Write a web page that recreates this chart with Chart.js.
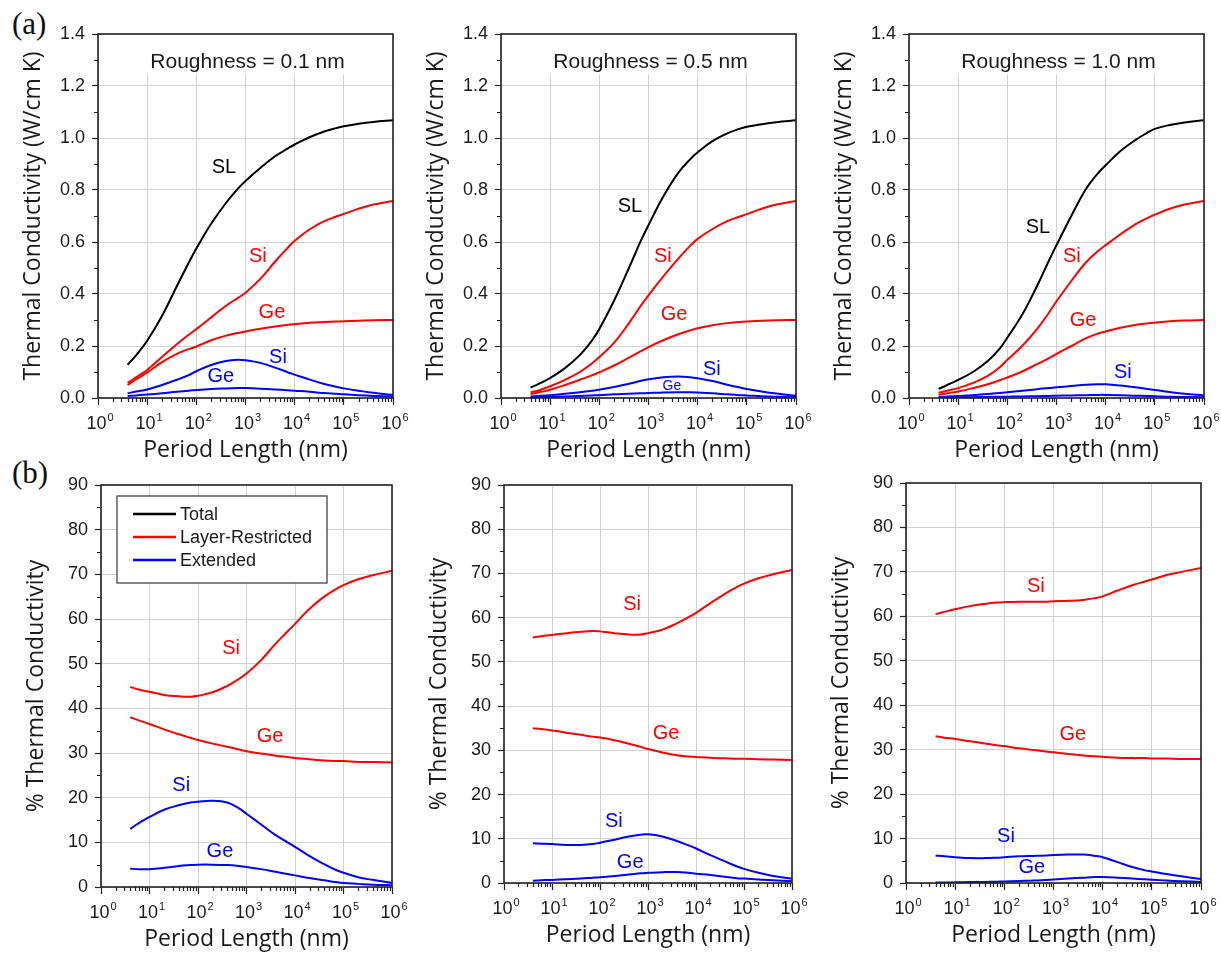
<!DOCTYPE html>
<html>
<head>
<meta charset="utf-8">
<title>Thermal conductivity vs period length</title>
<script src="https://cdn.jsdelivr.net/npm/chart.js@4.4.1/dist/chart.umd.min.js"></script>
<style>
    body { margin: 0; background: #fff; width: 1221px; height: 953px; overflow: hidden; position: relative; }
    .panel { position: absolute; }
    .tag { position: absolute; font-family: 'Liberation Serif', 'Times New Roman', serif; font-size: 31px; line-height: 1; color: #111; }
</style>
</head>
<body>
<div class="tag" style="left:12px; top:8px;">(a)</div>
<div class="tag" style="left:12px; top:457px;">(b)</div>

<script>
// Period lengths (nm) shared by every curve
const periods = [4, 6, 10, 20, 40, 70, 100, 200, 400, 700, 1e3, 2e3, 4e3, 7e3, 1e4, 2e4, 4e4, 7e4, 1e5, 2e5, 4e5, 1e6];

// Tick values
const xDecades = [1, 10, 100, 1e3, 1e4, 1e5, 1e6];
const kTicks = [0, 0.2, 0.4, 0.6, 0.8, 1.0, 1.2, 1.4];
const pctTicks = [0, 10, 20, 30, 40, 50, 60, 70, 80, 90];

// (a) thermal conductivity (W/cm K), roughness 0.1 nm
const slK_01 = [0.128, 0.165, 0.22, 0.315, 0.43, 0.52, 0.575, 0.67, 0.75, 0.805, 0.835, 0.885, 0.93, 0.958, 0.975, 1.003, 1.025, 1.038, 1.045, 1.055, 1.062, 1.068];
const siK_01 = [0.058, 0.08, 0.108, 0.158, 0.207, 0.243, 0.265, 0.31, 0.355, 0.385, 0.405, 0.458, 0.525, 0.575, 0.605, 0.648, 0.68, 0.698, 0.708, 0.728, 0.744, 0.758];
const geK_01 = [0.05, 0.072, 0.098, 0.138, 0.17, 0.188, 0.198, 0.222, 0.24, 0.25, 0.256, 0.266, 0.275, 0.281, 0.284, 0.289, 0.292, 0.294, 0.295, 0.297, 0.299, 0.30];
const siExtK_01 = [0.018, 0.025, 0.033, 0.05, 0.07, 0.088, 0.103, 0.127, 0.142, 0.147, 0.145, 0.135, 0.117, 0.1, 0.09, 0.071, 0.054, 0.043, 0.037, 0.028, 0.02, 0.012];
const geExtK_01 = [0.008, 0.01, 0.013, 0.018, 0.024, 0.028, 0.031, 0.035, 0.037, 0.038, 0.038, 0.036, 0.033, 0.03, 0.028, 0.024, 0.019, 0.016, 0.014, 0.011, 0.008, 0.005];

// (a) roughness 0.5 nm
const slK_05 = [0.04, 0.055, 0.077, 0.115, 0.165, 0.22, 0.265, 0.375, 0.5, 0.605, 0.665, 0.775, 0.865, 0.918, 0.945, 0.988, 1.018, 1.035, 1.043, 1.053, 1.061, 1.068];
const siK_05 = [0.022, 0.03, 0.045, 0.07, 0.10, 0.133, 0.158, 0.213, 0.288, 0.355, 0.395, 0.468, 0.535, 0.585, 0.612, 0.65, 0.68, 0.697, 0.707, 0.728, 0.744, 0.758];
const geK_05 = [0.015, 0.022, 0.032, 0.05, 0.07, 0.087, 0.099, 0.125, 0.155, 0.18, 0.196, 0.222, 0.245, 0.26, 0.268, 0.28, 0.288, 0.292, 0.294, 0.297, 0.299, 0.30];
const siExtK_05 = [0.006, 0.008, 0.011, 0.016, 0.022, 0.028, 0.032, 0.042, 0.055, 0.066, 0.072, 0.08, 0.083, 0.08, 0.076, 0.065, 0.051, 0.041, 0.035, 0.025, 0.017, 0.009];
const geExtK_05 = [0.002, 0.003, 0.004, 0.006, 0.008, 0.01, 0.011, 0.014, 0.016, 0.018, 0.019, 0.021, 0.022, 0.022, 0.021, 0.018, 0.014, 0.011, 0.01, 0.007, 0.005, 0.003];

// (a) roughness 1.0 nm
const slK_10 = [0.035, 0.05, 0.07, 0.10, 0.142, 0.19, 0.232, 0.32, 0.43, 0.528, 0.588, 0.7, 0.805, 0.865, 0.895, 0.95, 0.992, 1.02, 1.035, 1.05, 1.06, 1.068];
const siK_10 = [0.02, 0.028, 0.038, 0.058, 0.085, 0.118, 0.147, 0.2, 0.265, 0.328, 0.372, 0.45, 0.522, 0.565, 0.588, 0.63, 0.668, 0.692, 0.705, 0.728, 0.744, 0.758];
const geK_10 = [0.012, 0.018, 0.025, 0.038, 0.053, 0.068, 0.079, 0.102, 0.13, 0.153, 0.17, 0.2, 0.23, 0.248, 0.256, 0.27, 0.281, 0.287, 0.29, 0.295, 0.298, 0.30];
const siExtK_10 = [0.004, 0.006, 0.008, 0.011, 0.015, 0.019, 0.022, 0.028, 0.034, 0.038, 0.041, 0.046, 0.051, 0.053, 0.053, 0.048, 0.041, 0.035, 0.031, 0.023, 0.016, 0.01];
const geExtK_10 = [0.001, 0.0015, 0.002, 0.003, 0.004, 0.005, 0.005, 0.006, 0.007, 0.008, 0.009, 0.01, 0.011, 0.012, 0.012, 0.011, 0.009, 0.008, 0.007, 0.005, 0.004, 0.003];

// (b) % of total thermal conductivity
const siPct_01 = [44.8, 44.2, 43.7, 43.0, 42.7, 42.6, 42.8, 43.6, 45.0, 46.6, 47.8, 50.8, 54.5, 57.2, 58.9, 62.3, 65.0, 66.7, 67.6, 68.9, 69.8, 70.8];
const gePct_01 = [38.0, 37.3, 36.5, 35.3, 34.2, 33.4, 32.9, 32.1, 31.4, 30.8, 30.4, 29.9, 29.4, 29.1, 28.9, 28.6, 28.3, 28.2, 28.2, 28.0, 28.0, 27.9];
const siExtPct_01 = [13.0, 14.3, 15.7, 17.3, 18.3, 18.9, 19.1, 19.3, 18.9, 17.6, 16.4, 14.0, 11.6, 10.0, 9.0, 6.9, 5.1, 3.8, 3.2, 2.2, 1.6, 0.9];
const geExtPct_01 = [4.1, 4.0, 4.0, 4.3, 4.7, 4.9, 5.0, 5.0, 4.9, 4.7, 4.5, 4.0, 3.4, 2.9, 2.6, 2.0, 1.5, 1.1, 0.9, 0.7, 0.5, 0.4];

const siPct_05 = [55.5, 55.8, 56.1, 56.5, 56.8, 57.0, 56.9, 56.5, 56.2, 56.2, 56.5, 57.3, 58.7, 60.1, 61.1, 63.3, 65.4, 66.9, 67.7, 68.9, 69.8, 70.8];
const gePct_05 = [35.0, 34.8, 34.5, 34.0, 33.5, 33.1, 32.9, 32.3, 31.5, 30.8, 30.3, 29.5, 28.9, 28.6, 28.5, 28.3, 28.2, 28.1, 28.1, 28.0, 27.9, 27.8];
const siExtPct_05 = [9.0, 8.9, 8.8, 8.6, 8.6, 8.8, 9.1, 9.8, 10.5, 10.9, 11.0, 10.5, 9.5, 8.5, 7.8, 6.3, 4.9, 3.8, 3.2, 2.3, 1.6, 1.0];
const geExtPct_05 = [0.5, 0.6, 0.7, 0.85, 1.0, 1.2, 1.3, 1.6, 1.9, 2.2, 2.3, 2.45, 2.5, 2.3, 2.1, 1.8, 1.4, 1.1, 1.0, 0.8, 0.6, 0.4];

const siPct_10 = [60.5, 61.0, 61.6, 62.3, 62.8, 63.1, 63.2, 63.3, 63.3, 63.3, 63.4, 63.5, 63.7, 64.1, 64.5, 65.8, 67.0, 67.8, 68.3, 69.3, 70.0, 70.9];
const gePct_10 = [33.0, 32.7, 32.4, 31.9, 31.4, 31.0, 30.8, 30.3, 29.9, 29.6, 29.4, 29.0, 28.7, 28.5, 28.4, 28.2, 28.1, 28.1, 28.0, 28.0, 27.9, 27.9];
const siExtPct_10 = [6.2, 6.0, 5.8, 5.6, 5.6, 5.7, 5.8, 6.0, 6.1, 6.2, 6.3, 6.4, 6.4, 6.1, 5.8, 4.7, 3.6, 2.9, 2.6, 2.0, 1.5, 0.9];
const geExtPct_10 = [0.1, 0.1, 0.15, 0.2, 0.25, 0.3, 0.35, 0.45, 0.55, 0.7, 0.8, 1.0, 1.2, 1.35, 1.35, 1.2, 1.0, 0.85, 0.75, 0.55, 0.4, 0.25];

// Legend entries for (b)
const legendNames = ['Total', 'Layer-Restricted', 'Extended'];

// Styles
const BLACK = '#000000', RED = '#ff0000', BLUE = '#0000ff';
const GRID = '#d2d2d2', FRAME = '#222222', TEXT = '#1a1a1a';
const SANS = "'Liberation Sans', Arial, sans-serif";
const TITLE_FONT = { family: "'Open Sans', sans-serif", size: 23 };
const TICK_FONT = { family: SANS, size: 18 };
const legendColors = [BLACK, RED, BLUE];

// Fixed axis sizes so the plot boxes land where the figure has them
const Y_AXIS_W = 98, X_AXIS_H = 72, PAD_TOP = 20, PAD_RIGHT = 20;

function series(values) {
    return periods.map((p, i) => ({ x: p, y: values[i] }));
}

function line(values, color) {
    return {
        data: series(values),
        borderColor: color,
        borderWidth: 2,
        pointRadius: 0,
        fill: false,
        tension: 0.4
    };
}

const decorPlugin = {
    id: 'decor',
    beforeDatasetsDraw(chart, args, opts) {
        const { ctx, chartArea: a } = chart;
        ctx.save();
        // roughness caption on a white patch
        if (opts.caption) {
            ctx.font = `21px ${SANS}`;
            const w = ctx.measureText(opts.caption).width;
            const cx = (a.left + a.right) / 2 + 2;
            ctx.fillStyle = '#fff';
            ctx.fillRect(cx - w / 2 - 7, a.top + 1, w + 14, 39);
            ctx.fillStyle = TEXT;
            ctx.textAlign = 'center';
            ctx.textBaseline = 'alphabetic';
            ctx.fillText(opts.caption, cx, a.top + 34);
        }
        // legend box
        if (opts.legend) {
            const bx = a.left + 16, by = a.top + 11, bw = 210, bh = 87;
            ctx.fillStyle = '#fff';
            ctx.fillRect(bx, by, bw, bh);
            ctx.strokeStyle = '#444';
            ctx.lineWidth = 1.3;
            ctx.strokeRect(bx, by, bw, bh);
            ctx.font = `18px ${SANS}`;
            ctx.textAlign = 'left';
            ctx.textBaseline = 'middle';
            legendNames.forEach((name, i) => {
                const ly = by + 18 + i * 23;
                ctx.strokeStyle = legendColors[i];
                ctx.lineWidth = 2.5;
                ctx.beginPath();
                ctx.moveTo(bx + 16, ly);
                ctx.lineTo(bx + 59, ly);
                ctx.stroke();
                ctx.fillStyle = TEXT;
                ctx.fillText(name, bx + 63, ly + 1);
            });
        }
        ctx.restore();
    },
    afterDraw(chart, args, opts) {
        const { ctx, chartArea: a, scales: { x, y } } = chart;
        ctx.save();

        // minor ticks
        ctx.strokeStyle = FRAME;
        ctx.lineWidth = 1.2;
        ctx.beginPath();
        for (let i = 0; i < xDecades.length - 1; i++) {
            for (let m = 2; m <= 9; m++) {
                const px = Math.round(x.getPixelForValue(m * xDecades[i])) + 0.5;
                ctx.moveTo(px, a.bottom);
                ctx.lineTo(px, a.bottom + 4);
            }
        }
        const yt = opts.yTicks;
        for (let i = 0; i < yt.length - 1; i++) {
            const py = Math.round(y.getPixelForValue((yt[i] + yt[i + 1]) / 2)) + 0.5;
            ctx.moveTo(a.left - 4, py);
            ctx.lineTo(a.left, py);
        }
        ctx.stroke();

        // frame
        ctx.lineWidth = 1.6;
        ctx.strokeRect(a.left, a.top, a.right - a.left, a.bottom - a.top);

        // x tick labels as powers of ten
        ctx.fillStyle = TEXT;
        ctx.textAlign = 'left';
        ctx.textBaseline = 'alphabetic';
        xDecades.forEach(v => {
            const px = x.getPixelForValue(v);
            const exp = String(Math.round(Math.log10(v)));
            ctx.font = `18px ${SANS}`;
            const w1 = ctx.measureText('10').width;
            ctx.font = `11px ${SANS}`;
            const w2 = ctx.measureText(exp).width;
            const left = px - (w1 + 1 + w2) / 2 + 2;
            ctx.font = `18px ${SANS}`;
            ctx.fillText('10', left, a.bottom + 31);
            ctx.font = `11px ${SANS}`;
            ctx.fillText(exp, left + w1 + 1, a.bottom + 23);
        });

        // curve labels
        ctx.textAlign = 'center';
        ctx.textBaseline = 'middle';
        (opts.labels || []).forEach(l => {
            ctx.font = `${l.size || 20}px ${SANS}`;
            ctx.fillStyle = l.color;
            ctx.fillText(l.text, x.getPixelForValue(l.x), y.getPixelForValue(l.y));
        });
        ctx.restore();
    }
};

function makePanel(id, box, cfg) {
    const wrap = document.createElement('div');
    wrap.className = 'panel';
    const w = box.r - box.l + Y_AXIS_W + PAD_RIGHT;
    const h = box.b - box.t + PAD_TOP + X_AXIS_H;
    wrap.style.left = (box.l - Y_AXIS_W) + 'px';
    wrap.style.top = (box.t - PAD_TOP) + 'px';
    const canvas = document.createElement('canvas');
    canvas.id = id;
    canvas.width = w;
    canvas.height = h;
    wrap.appendChild(canvas);
    document.body.appendChild(wrap);

    new Chart(canvas, {
        type: 'line',
        data: { datasets: cfg.datasets },
        options: {
            responsive: false,
            animation: false,
            layout: { padding: { left: 0, top: PAD_TOP, right: PAD_RIGHT, bottom: 0 } },
            plugins: {
                legend: { display: false },
                tooltip: { enabled: false },
                decor: { caption: cfg.caption, labels: cfg.labels, legend: cfg.legend, yTicks: cfg.yTicks }
            },
            scales: {
                x: {
                    type: 'logarithmic',
                    min: 1,
                    max: 1e6,
                    afterBuildTicks: s => { s.ticks = xDecades.map(v => ({ value: v })); },
                    afterFit: s => { s.height = X_AXIS_H; s.paddingLeft = 0; s.paddingRight = 0; },
                    ticks: { display: false },
                    grid: { color: GRID, lineWidth: 1, tickColor: FRAME, tickLength: 7, tickWidth: 1.2 },
                    border: { display: false },
                    title: { display: true, text: 'Period Length (nm)', font: TITLE_FONT, color: TEXT, padding: { top: 0, bottom: 6 } }
                },
                y: {
                    type: 'linear',
                    min: 0,
                    max: cfg.yTicks[cfg.yTicks.length - 1],
                    afterBuildTicks: s => { s.ticks = cfg.yTicks.map(v => ({ value: v })); },
                    afterFit: s => { s.width = Y_AXIS_W; s.paddingTop = 0; s.paddingBottom = 0; },
                    ticks: { font: TICK_FONT, color: TEXT, padding: 7, callback: cfg.fmt },
                    grid: { color: GRID, lineWidth: 1, tickColor: FRAME, tickLength: 6, tickWidth: 1.2 },
                    border: { display: false },
                    title: { display: true, text: cfg.yTitle, font: TITLE_FONT, color: TEXT, padding: { top: 20, bottom: 0 } }
                }
            }
        },
        plugins: [decorPlugin]
    });
}

const kTitle = 'Thermal Conductivity (W/cm K)';
const pTitle = '% Thermal Conductivity';
const fmtK = v => v.toFixed(1);
const fmtP = v => String(v);

document.addEventListener('DOMContentLoaded', () => {
    // (a) row
    makePanel('a1', { l: 98, t: 34, r: 393, b: 398 }, {
        yTicks: kTicks, fmt: fmtK, yTitle: kTitle, caption: 'Roughness = 0.1 nm',
        datasets: [line(slK_01, BLACK), line(siK_01, RED), line(geK_01, RED), line(siExtK_01, BLUE), line(geExtK_01, BLUE)],
        labels: [
            { text: 'SL', x: 363, y: 0.885, color: BLACK },
            { text: 'Si', x: 1780, y: 0.546, color: RED },
            { text: 'Ge', x: 3450, y: 0.33, color: RED },
            { text: 'Si', x: 4570, y: 0.157, color: BLUE },
            { text: 'Ge', x: 316, y: 0.082, color: BLUE }
        ]
    });
    makePanel('a2', { l: 501, t: 34, r: 796, b: 398 }, {
        yTicks: kTicks, fmt: fmtK, yTitle: kTitle, caption: 'Roughness = 0.5 nm',
        datasets: [line(slK_05, BLACK), line(siK_05, RED), line(geK_05, RED), line(siExtK_05, BLUE), line(geExtK_05, BLUE)],
        labels: [
            { text: 'SL', x: 420, y: 0.738, color: BLACK },
            { text: 'Si', x: 1960, y: 0.546, color: RED },
            { text: 'Ge', x: 3300, y: 0.32, color: RED },
            { text: 'Si', x: 19500, y: 0.11, color: BLUE },
            { text: 'Ge', x: 3000, y: 0.047, color: BLUE, size: 14 }
        ]
    });
    makePanel('a3', { l: 909, t: 34, r: 1204, b: 398 }, {
        yTicks: kTicks, fmt: fmtK, yTitle: kTitle, caption: 'Roughness = 1.0 nm',
        datasets: [line(slK_10, BLACK), line(siK_10, RED), line(geK_10, RED), line(siExtK_10, BLUE), line(geExtK_10, BLUE)],
        labels: [
            { text: 'SL', x: 420, y: 0.657, color: BLACK },
            { text: 'Si', x: 2050, y: 0.546, color: RED },
            { text: 'Ge', x: 3460, y: 0.30, color: RED },
            { text: 'Si', x: 22400, y: 0.10, color: BLUE }
        ]
    });

    // (b) row
    makePanel('b1', { l: 101, t: 485, r: 392, b: 887 }, {
        yTicks: pctTicks, fmt: fmtP, yTitle: pTitle, legend: true,
        datasets: [line(siPct_01, RED), line(gePct_01, RED), line(siExtPct_01, BLUE), line(geExtPct_01, BLUE)],
        labels: [
            { text: 'Si', x: 480, y: 53.3, color: RED },
            { text: 'Ge', x: 3050, y: 33.6, color: RED },
            { text: 'Si', x: 45, y: 22.8, color: BLUE },
            { text: 'Ge', x: 283, y: 8.0, color: BLUE }
        ]
    });
    makePanel('b2', { l: 504, t: 485, r: 792, b: 883 }, {
        yTicks: pctTicks, fmt: fmtP, yTitle: pTitle,
        datasets: [line(siPct_05, RED), line(gePct_05, RED), line(siExtPct_05, BLUE), line(geExtPct_05, BLUE)],
        labels: [
            { text: 'Si', x: 465, y: 62.9, color: RED },
            { text: 'Ge', x: 2370, y: 33.9, color: RED },
            { text: 'Si', x: 195, y: 13.8, color: BLUE },
            { text: 'Ge', x: 425, y: 4.75, color: BLUE }
        ]
    });
    makePanel('b3', { l: 906, t: 483, r: 1201, b: 883 }, {
        yTicks: pctTicks, fmt: fmtP, yTitle: pTitle,
        datasets: [line(siPct_10, RED), line(gePct_10, RED), line(siExtPct_10, BLUE), line(geExtPct_10, BLUE)],
        labels: [
            { text: 'Si', x: 437, y: 66.8, color: RED },
            { text: 'Ge', x: 2460, y: 33.5, color: RED },
            { text: 'Si', x: 108, y: 10.4, color: BLUE },
            { text: 'Ge', x: 363, y: 3.4, color: BLUE }
        ]
    });
});
</script>
</body>
</html>
